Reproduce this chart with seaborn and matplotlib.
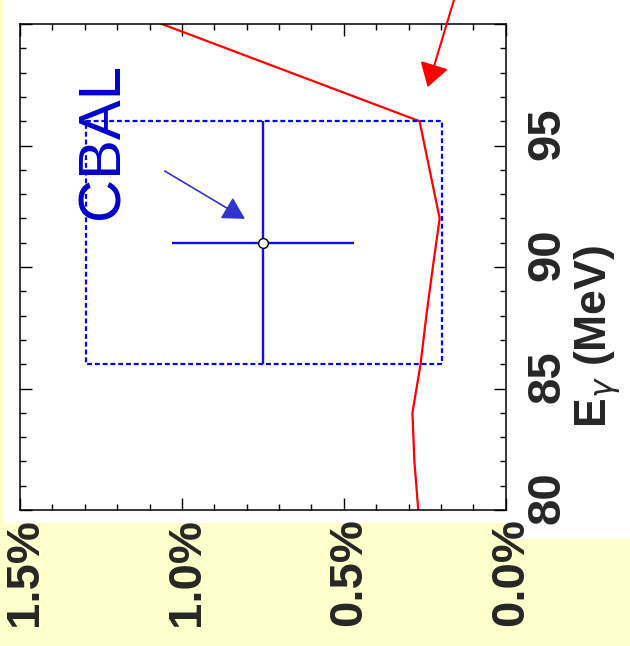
import numpy as np
import pandas as pd
import matplotlib
matplotlib.use('Agg')
import matplotlib.pyplot as plt
from matplotlib.patches import Rectangle
from matplotlib.ticker import MultipleLocator
import seaborn as sns

sns.set_style('ticks')
plt.rcParams['font.family'] = ['Liberation Sans', 'DejaVu Sans']

# Red curve: background fraction (%) vs photon energy (MeV)
energy = [80, 82, 84, 86, 88, 90, 92, 94, 96, 98, 100]
fraction = [0.270, 0.282, 0.288, 0.263, 0.245, 0.225, 0.204, 0.235, 0.266, 0.664, 1.062]

# CBAL point with error bars and the dashed window around it
cbal_energy = [91.0]
cbal_fraction = [0.75]
cbal_energy_err = [5.0]
cbal_fraction_err = [0.28]
box_energy = [86.0, 96.0]
box_fraction = [0.198, 1.297]

# arrows (tail -> tip), data units
red_arrow_tail = (0.155, 101.2)
red_arrow_tip = (0.241, 97.4)
blue_arrow_tail = (1.053, 93.95)
blue_arrow_tip = (0.805, 91.98)

pct_ticks = [1.5, 1.0, 0.5, 0.0]
pct_labels = ['1.5%', '1.0%', '0.5%', '0.0%']
e_ticks = [80, 85, 90, 95]
e_labels = ['80', '85', '90', '95']

W, H = 630, 646
fig = plt.figure(figsize=(W / 100, H / 100), dpi=100)
fig.patch.set_facecolor('white')

# yellow page background peeking round the plot
yellow = '#ffffcc'
for x0, y0, w, h in [(0, 0, 3, 523), (0, 523, 512, 123), (512, 539, 118, 107)]:
    fig.patches.append(Rectangle((x0 / W, 1 - (y0 + h) / H), w / W, h / H,
                                 transform=fig.transFigure, color=yellow,
                                 zorder=-5, lw=0))

ax = fig.add_axes([20 / W, 1 - 510 / H, 485.7 / W, 486 / H])
ax.set_facecolor('white')

df = pd.DataFrame({'energy': energy, 'fraction': fraction})
sns.lineplot(data=df, x='fraction', y='energy', sort=False, estimator=None,
             color='#ff0000', lw=1.6, ax=ax)

# dashed window
bx = [box_fraction[0], box_fraction[1], box_fraction[1], box_fraction[0], box_fraction[0]]
by = [box_energy[0], box_energy[0], box_energy[1], box_energy[1], box_energy[0]]
ax.plot(bx, by, color='#0000ff', lw=1.6, ls=(0, (2.2, 1.3)), zorder=3)

ax.errorbar(cbal_fraction, cbal_energy, xerr=cbal_fraction_err, yerr=cbal_energy_err,
            fmt='o', color='#1010e0', ecolor='#1010e0', elinewidth=1.7, capsize=0,
            ms=7, mfc='white', mec='black', mew=1.0, zorder=4)

ax.annotate('', xy=red_arrow_tip, xytext=red_arrow_tail, annotation_clip=False,
            arrowprops=dict(arrowstyle='-|>,head_length=0.45,head_width=0.28',
                            mutation_scale=32, color='#ff0000', lw=1.5,
                            shrinkA=0, shrinkB=0))
ax.annotate('', xy=blue_arrow_tip, xytext=blue_arrow_tail,
            arrowprops=dict(arrowstyle='-|>,head_length=0.45,head_width=0.25',
                            mutation_scale=30, color='#3333cc', lw=1.2,
                            shrinkA=0, shrinkB=0))

ax.text(0.171, 0.759, 'CBAL', transform=ax.transAxes, rotation=90,
        ha='center', va='center', fontsize=43, color='#0000cc')

ax.set_xlim(1.5, 0.0)
ax.set_ylim(80, 100)
ax.xaxis.set_major_locator(MultipleLocator(0.5))
ax.xaxis.set_minor_locator(MultipleLocator(0.1))
ax.yaxis.set_major_locator(MultipleLocator(5))
ax.yaxis.set_minor_locator(MultipleLocator(1))
ax.tick_params(which='both', direction='in', top=True, right=True,
               labelbottom=False, labelleft=False, width=1.0, color='black')
ax.tick_params(which='major', length=8.6)
ax.tick_params(which='minor', length=4.3)
for s in ax.spines.values():
    s.set_linewidth(1.1)
    s.set_color('black')
ax.set_xlabel('')
ax.set_ylabel('')

# rotated tick labels
for v, lab in zip(pct_ticks, pct_labels):
    ax.annotate(lab, xy=(v, 0), xycoords=ax.get_xaxis_transform(),
                xytext=(5, -8), textcoords='offset pixels', rotation=90,
                ha='center', va='top', fontsize=34, fontweight='bold',
                annotation_clip=False)
for v, lab in zip(e_ticks, e_labels):
    ax.annotate(lab, xy=(1, v), xycoords=ax.get_yaxis_transform(),
                xytext=(20, 12), textcoords='offset pixels', rotation=90,
                ha='left', va='center', fontsize=34, fontweight='bold',
                annotation_clip=False)

fig.text(598 / W, 1 - 336 / H, r'E$_{\gamma}$ (MeV)', rotation=90,
         ha='center', va='center', fontsize=32, fontweight='bold')

fig.savefig('out.png', dpi=100, facecolor=fig.get_facecolor())
